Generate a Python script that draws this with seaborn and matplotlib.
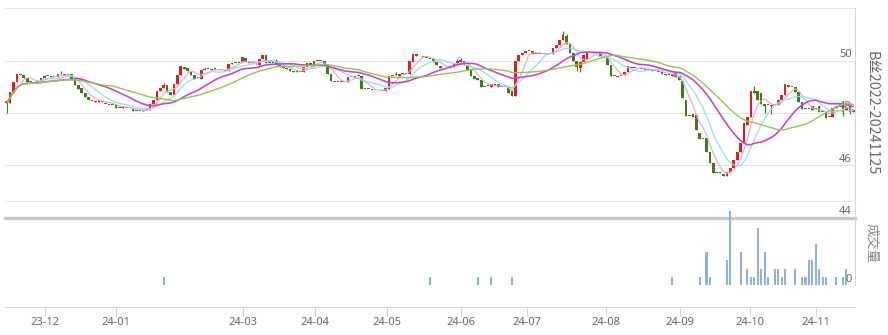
import numpy as np
import pandas as pd
import matplotlib
matplotlib.use("Agg")
import matplotlib.pyplot as plt
import seaborn as sns

# ---------------- data ----------------
opens = [
    48.45, 48.38, 48.80, 49.20, 49.50, 49.45, 49.35, 49.18, 49.15, 49.15,
    49.22, 49.33, 49.40, 49.42, 49.38, 49.38, 49.47, 49.44, 49.45, 49.48,
    49.25, 49.05, 48.95, 48.75, 48.60, 48.45, 48.42, 48.40, 48.45, 48.36,
    48.32, 48.32, 48.33, 48.20, 48.20, 48.20, 48.18, 48.18, 48.08, 48.08,
    48.08, 48.10, 48.13, 48.35, 48.50, 48.85, 48.95, 49.05, 48.80, 48.68,
    49.10, 49.45, 49.75, 49.72, 49.62, 49.45, 49.33, 49.30, 49.65, 49.67,
    49.64, 49.70, 49.66, 49.63, 49.66, 49.60, 49.88, 49.92, 49.92, 49.93,
    50.10, 49.95, 49.90, 49.92, 49.85, 50.05, 50.20, 49.90, 49.90, 49.97,
    49.83, 49.77, 49.72, 49.67, 49.62, 49.60, 49.57, 49.55, 49.76, 49.92,
    49.79, 49.98, 49.98, 49.97, 49.80, 49.50, 49.20, 49.18, 49.18, 49.18,
    49.18, 49.39, 49.39, 49.40, 49.43, 48.90, 48.90, 48.88, 48.86, 48.86,
    48.85, 48.85, 48.90, 49.43, 49.45, 49.43, 49.50, 49.50, 49.50, 49.95,
    50.25, 50.16, 50.13, 50.10, 50.08, 50.05, 49.95, 49.78, 49.70, 49.70,
    49.70, 49.76, 49.90, 49.95, 50.00, 49.85, 49.65, 49.40, 49.35, 49.25,
    49.00, 49.02, 48.98, 49.08, 49.10, 48.98, 48.98, 49.00, 48.85, 48.63,
    49.98, 50.20, 50.28, 50.36, 50.38, 50.25, 50.25, 50.25, 50.25, 50.26,
    50.26, 50.47, 50.60, 50.80, 50.95, 50.62, 50.28, 49.98, 49.72, 49.95,
    50.05, 50.30, 50.30, 50.30, 50.30, 50.10, 50.10, 49.82, 49.42, 49.38,
    49.43, 49.45, 49.58, 49.72, 49.72, 49.70, 49.68, 49.66, 49.64, 49.68,
    49.60, 49.57, 49.55, 49.50, 49.45, 49.43, 49.55, 49.40, 49.22, 48.50,
    47.87, 47.85, 47.92, 47.25, 47.02, 47.05, 46.50, 46.10, 45.70, 45.75,
    45.68, 45.58, 45.75, 45.90, 46.20, 46.50, 46.85, 47.55, 47.85, 48.85,
    48.85, 48.75, 48.35, 48.30, 48.27, 48.30, 48.30, 48.50, 48.70, 49.05,
    49.00, 49.00, 48.80, 48.40, 48.15, 48.15, 48.25, 48.15, 48.25, 48.05,
    48.05, 47.85, 47.85, 48.20, 48.28, 48.30, 48.10, 48.30, 48.10,
]
closes = [
    48.38, 48.80, 49.20, 49.50, 49.45, 49.35, 49.20, 49.18, 49.15, 49.22,
    49.33, 49.42, 49.40, 49.38, 49.38, 49.48, 49.47, 49.48, 49.45, 49.25,
    49.05, 48.93, 48.75, 48.60, 48.50, 48.45, 48.45, 48.48, 48.40, 48.36,
    48.32, 48.32, 48.20, 48.20, 48.21, 48.20, 48.18, 48.08, 48.08, 48.08,
    48.12, 48.10, 48.35, 48.50, 48.85, 48.95, 49.07, 48.80, 48.68, 49.10,
    49.45, 49.78, 49.68, 49.62, 49.45, 49.30, 49.33, 49.65, 49.65, 49.67,
    49.68, 49.64, 49.63, 49.63, 49.60, 49.88, 49.92, 49.92, 49.92, 50.12,
    49.93, 49.90, 49.90, 49.88, 50.05, 50.22, 49.92, 49.90, 49.90, 49.83,
    49.77, 49.72, 49.67, 49.62, 49.57, 49.56, 49.57, 49.76, 49.92, 49.78,
    49.98, 49.98, 49.98, 49.80, 49.50, 49.22, 49.20, 49.18, 49.18, 49.18,
    49.39, 49.39, 49.43, 49.40, 48.90, 48.90, 48.90, 48.88, 48.86, 48.86,
    48.85, 48.95, 49.43, 49.43, 49.45, 49.50, 49.50, 49.50, 49.97, 50.25,
    50.18, 50.16, 50.13, 50.10, 50.08, 49.95, 49.85, 49.70, 49.70, 49.70,
    49.78, 49.90, 50.00, 50.02, 49.85, 49.65, 49.40, 49.30, 49.25, 48.98,
    49.00, 49.03, 49.10, 49.08, 48.98, 48.98, 48.98, 48.75, 48.63, 49.98,
    50.20, 50.28, 50.36, 50.36, 50.25, 50.25, 50.25, 50.25, 50.25, 50.26,
    50.47, 50.60, 50.80, 50.97, 50.62, 50.30, 49.98, 49.75, 49.95, 50.20,
    50.30, 50.30, 50.30, 50.30, 50.12, 50.10, 49.82, 49.42, 49.42, 49.40,
    49.43, 49.58, 49.80, 49.72, 49.72, 49.70, 49.68, 49.66, 49.64, 49.60,
    49.60, 49.57, 49.50, 49.45, 49.45, 49.47, 49.38, 49.25, 48.58, 47.90,
    47.87, 47.95, 47.35, 47.00, 47.02, 46.50, 46.08, 45.70, 45.70, 45.70,
    45.60, 45.75, 45.90, 46.20, 46.50, 46.85, 47.60, 47.85, 48.85, 48.75,
    48.50, 48.35, 48.25, 48.30, 48.30, 48.30, 48.48, 48.70, 49.10, 48.98,
    49.00, 48.80, 48.40, 48.15, 48.15, 48.15, 48.10, 48.15, 48.05, 48.05,
    47.82, 47.85, 48.20, 48.28, 48.28, 48.05, 48.22, 48.05, 48.05,
]
high_wicks = {16: 49.60, 46: 49.15, 58: 49.75, 79: 50.05, 114: 49.55,
              132: 50.05, 133: 50.10, 163: 51.12, 164: 51.00, 170: 50.35,
              219: 49.03, 245: 48.40, 247: 48.35}
low_wicks = {0: 48.00, 167: 49.60, 168: 49.55, 222: 48.00, 224: 47.95,
             245: 47.90, 247: 47.95}

vol_index = [46, 124, 138, 142, 148, 195, 203, 205, 206, 211, 212, 215, 217,
             218, 219, 220, 221, 222, 223, 225, 226, 227, 228, 231, 233, 234,
             235, 236, 237, 238, 239, 240, 243, 245, 246]
vol_values = [1, 1, 1, 1, 1, 1, 1, 4, 1, 3, 9, 4, 2,
              1, 1, 7, 2, 4, 1, 2, 2, 1, 2, 2, 1, 1,
              3, 3, 5, 2, 1, 1, 1, 1, 2]

tick_index = [11.3, 32.1, 69.3, 90.4, 111.5, 133.0, 152.5, 175.6, 197.3, 217.8, 237.0]
tick_labels = ["23-12", "24-01", "24-03", "24-04", "24-05", "24-06",
               "24-07", "24-08", "24-09", "24-10", "24-11"]
price_ticks = [44, 46, 48, 50]
ma_periods = [5, 10, 20, 30]
ma_colors = ["#f2a3d0", "#84e1f0", "#cc3ddb", "#8acb48"]
ma_widths = [0.85, 0.85, 1.15, 1.0]
title_text = "B丝2022-20241125"
vol_title = "成交量"

# ---------------- figure ----------------
sns.set_theme(style="white")
plt.rcParams['font.family'] = ['Noto Sans', 'Noto Sans CJK SC', 'DejaVu Sans']

W, H = 888, 335
fig = plt.figure(figsize=(W / 100, H / 100), dpi=100, facecolor="white")


def rect(l, t, r, b):
    return [l / W, 1 - b / H, (r - l) / W, (b - t) / H]


ax = fig.add_axes(rect(5, 8.3, 855, 217.6))
axv = fig.add_axes(rect(5, 201, 855, 285))
for a in (ax, axv):
    a.patch.set_alpha(0)

N = len(closes)
x = np.arange(N)
o = np.array(opens)
c = np.array(closes)
hi = np.maximum(o, c)
lo = np.minimum(o, c)
for k, v in high_wicks.items():
    hi[k] = v
for k, v in low_wicks.items():
    lo[k] = v

RED, GREEN = "#d9241c", "#3a7d17"
cols = np.where(c > o, RED, GREEN)

# main price axes
ax.set_xlim(-0.5, N - 0.5)
ax.set_ylim(44, 52)
ax.set_yticks([44, 46, 48, 50, 52])
ax.grid(axis="y", color="#e6e6e6", lw=0.75, zorder=0)
ax.grid(axis="x", visible=False)
ax.tick_params(left=False, right=False, bottom=False, labelleft=False,
               labelbottom=False)
for s in ("left", "top"):
    ax.spines[s].set_visible(False)
ax.spines["right"].set_color("#ccd6eb")
ax.spines["right"].set_linewidth(0.75)
ax.spines["bottom"].set_color("#c8c8c8")
ax.spines["bottom"].set_linewidth(2.4)

for v in price_ticks:
    ax.annotate(str(v), xy=(1, v), xycoords=("axes fraction", "data"),
                xytext=(-2.2, 4.3), textcoords="offset points",
                ha="right", va="center", fontsize=8, color="#666666",
                zorder=1, annotation_clip=False)

ax.vlines(x, lo, hi, colors=cols, lw=0.8, zorder=3)
ax.bar(x, np.maximum(np.abs(c - o), 0.035), bottom=np.minimum(o, c),
       width=0.78, color=cols, linewidth=0, zorder=3)

s = pd.Series(c)
for p, col, lw in zip(ma_periods, ma_colors, ma_widths):
    df = pd.DataFrame({"x": x, "ma": s.rolling(p, min_periods=1).mean()})
    sns.lineplot(data=df, x="x", y="ma", ax=ax, color=col, lw=lw,
                 legend=False, zorder=4)
ax.set_xlabel("")
ax.set_ylabel("")

# volume axes
axv.set_xlim(-0.5, N - 0.5)
axv.set_ylim(0, 10.25)
axv.bar(vol_index, vol_values, width=0.6, color="#8fb2dc", linewidth=0,
        zorder=3)
axv.axhline(0, color="#e6e6e6", lw=0.75, zorder=1)
axv.set_yticks([])
axv.spines["left"].set_visible(False)
axv.spines["top"].set_color("#e6e6e6")
axv.spines["top"].set_linewidth(0.75)
axv.spines["right"].set_color("#ccd6eb")
axv.spines["right"].set_linewidth(0.75)
axv.spines["bottom"].set_color("#ccd6eb")
axv.spines["bottom"].set_linewidth(0.75)
axv.spines["bottom"].set_position(("outward", 15.5))
axv.set_xticks(tick_index, tick_labels)
axv.tick_params(axis="x", direction="out", length=6.5, width=0.75,
                color="#ccd6eb", labelcolor="#666666", labelsize=8, pad=1.2,
                bottom=True)
axv.annotate("0", xy=(1, 0), xycoords=("axes fraction", "data"),
             xytext=(-2.2, 4.3), textcoords="offset points",
             ha="right", va="center", fontsize=8, color="#666666",
             annotation_clip=False)

# side titles
fig.text(871 / W, 1 - 113 / H, title_text, rotation=270, ha="center",
         va="center", fontsize=10.3, color="#666666",
         family=["Noto Sans CJK SC", "DejaVu Sans"])
fig.text(872 / W, 1 - 243 / H, vol_title, rotation=270, ha="center",
         va="center", fontsize=9.6, color="#888888",
         family=["Noto Sans CJK SC", "DejaVu Sans"])

fig.savefig("out.png", dpi=100, facecolor="white")
